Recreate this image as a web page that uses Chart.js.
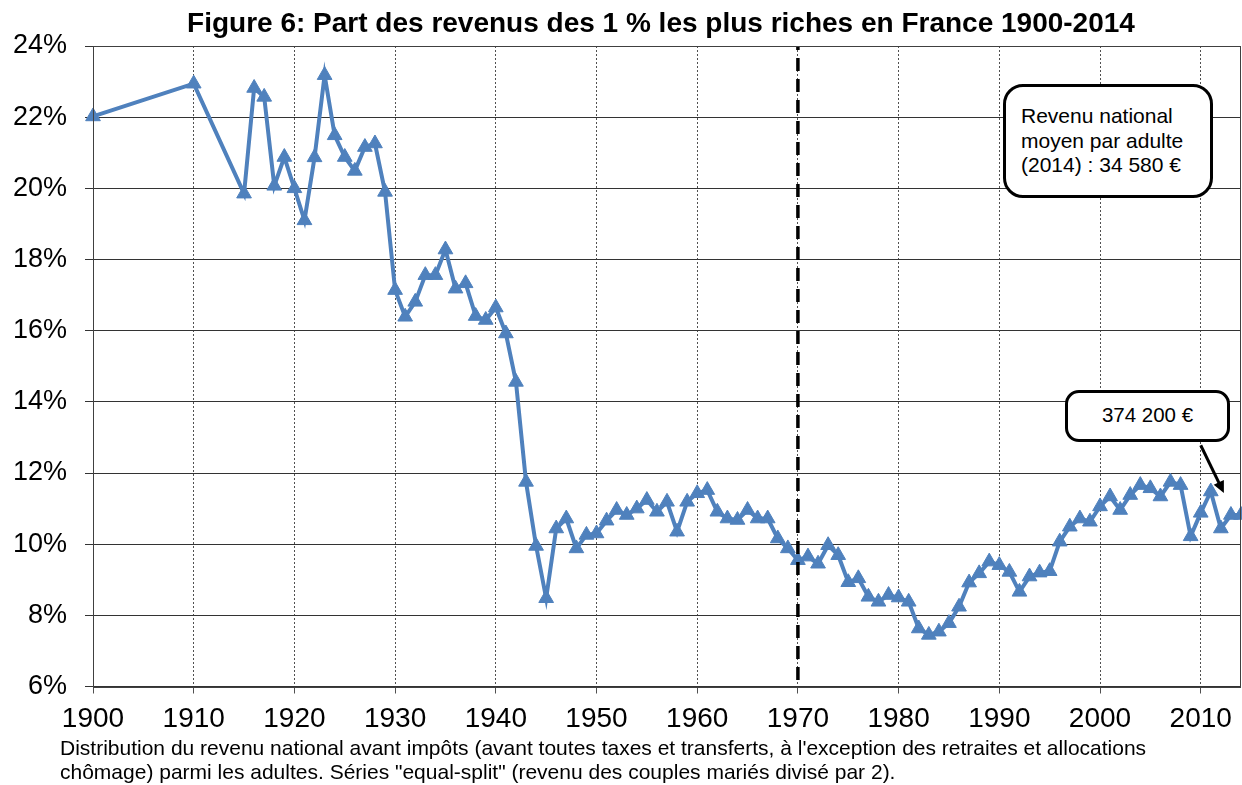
<!DOCTYPE html>
<html>
<head>
<meta charset="utf-8">
<script src="https://cdn.jsdelivr.net/npm/chart.js@4"></script>
<style>
  body { margin: 0; background: #fff; font-family: "Liberation Sans", Arial, sans-serif; }
  #wrap { position: relative; width: 1242px; height: 785px; }
  #title { position: absolute; left: 161px; top: 9px; width: 1000px; text-align: center;
    font-weight: bold; font-size: 28px; line-height: 28px; color: #000; }
  #note { position: absolute; left: 60px; top: 736px; width: 1180px;
    font-size: 21px; line-height: 24px; color: #000; }
  .callout { position: absolute; background: #fff; border: 3px solid #000;
    color: #000; box-sizing: border-box; }
  #box-mean { left: 1003px; top: 84px; width: 210px; height: 114px; border-radius: 20px;
    padding: 17px 0 0 15px; line-height: 24.7px; font-size: 21px; }
  #box-top { left: 1065px; top: 390px; width: 165px; height: 52px; border-radius: 14px;
    text-align: center; line-height: 44px; font-size: 20.5px; }
</style>
</head>
<body>
<div id="wrap">
  <canvas id="chart" width="1242" height="785"></canvas>
  <div id="title">Figure 6: Part des revenus des 1 % les plus riches en France 1900-2014</div>
  <div class="callout" id="box-mean">Revenu national<br>moyen par adulte<br>(2014) : 34 580 €</div>
  <div class="callout" id="box-top">374 200 €</div>
  <div id="note">Distribution du revenu national avant impôts (avant toutes taxes et transferts, à l'exception des retraites et allocations<br>chômage) parmi les adultes. Séries "equal-split" (revenu des couples mariés divisé par 2).</div>
</div>
<script>
const years = [
  1900, 1910, 1915, 1916, 1917, 1918, 1919, 1920, 1921, 1922, 1923, 1924, 1925, 1926, 1927, 1928, 1929,
  1930, 1931, 1932, 1933, 1934, 1935, 1936, 1937, 1938, 1939, 1940, 1941, 1942, 1943, 1944, 1945, 1946,
  1947, 1948, 1949, 1950, 1951, 1952, 1953, 1954, 1955, 1956, 1957, 1958, 1959, 1960, 1961, 1962, 1963,
  1964, 1965, 1966, 1967, 1968, 1969, 1970, 1971, 1972, 1973, 1974, 1975, 1976, 1977, 1978, 1979, 1980,
  1981, 1982, 1983, 1984, 1985, 1986, 1987, 1988, 1989, 1990, 1991, 1992, 1993, 1994, 1995, 1996, 1997,
  1998, 1999, 2000, 2001, 2002, 2003, 2004, 2005, 2006, 2007, 2008, 2009, 2010, 2011, 2012, 2013, 2014,
];

// part du top 1 % (en %)
const top1Share = [
  22.02, 22.94, 19.85, 22.82, 22.57, 20.07, 20.88, 20.00, 19.10, 20.87, 23.18, 21.49, 20.88, 20.49, 21.16, 21.26, 19.90,
  17.14, 16.39, 16.81, 17.56, 17.56, 18.28, 17.18, 17.33, 16.41, 16.30, 16.65, 15.92, 14.56, 11.75, 9.95, 8.48, 10.44,
  10.72, 9.88, 10.26, 10.30, 10.66, 10.96, 10.82, 11.00, 11.24, 10.91, 11.19, 10.35, 11.19, 11.43, 11.52, 10.91, 10.72,
  10.68, 10.96, 10.72, 10.72, 10.16, 9.88, 9.55, 9.65, 9.45, 9.97, 9.69, 8.93, 9.04, 8.52, 8.38, 8.57, 8.50,
  8.38, 7.63, 7.45, 7.54, 7.78, 8.24, 8.92, 9.18, 9.51, 9.41, 9.22, 8.66, 9.09, 9.20, 9.24, 10.07, 10.49,
  10.72, 10.63, 11.06, 11.34, 10.96, 11.38, 11.66, 11.57, 11.34, 11.75, 11.66, 10.22, 10.88, 11.48, 10.44, 10.82, 10.82,
];

// ligne verticale pointillée (1970) et flèche vers 2011
const markerYear = 1970;
const markerRange = [6.18, 24];
const arrowFrom = { x: 2010.0, y: 12.78 };
const arrowTo = { x: 2012.3, y: 11.44 };

const xMin = 1900;
const xMax = 2014;
const yMin = 6;
const yMax = 24;

const FONT = "'Liberation Sans', Arial, sans-serif";
const BLUE = "#4f81bd";

const frame = {
  id: "frame",
  afterDraw(chart) {
    const { ctx, chartArea: a } = chart;
    ctx.save();
    ctx.strokeStyle = "#404040";
    ctx.lineWidth = 1;
    ctx.strokeRect(Math.round(a.left) + 0.5, Math.round(a.top) + 0.5,
      Math.round(a.right - a.left) - 1, Math.round(a.bottom - a.top));
    ctx.restore();
  },
};

const arrow = {
  id: "arrow",
  afterDatasetsDraw(chart) {
    const { ctx, scales } = chart;
    const x1 = scales.x.getPixelForValue(arrowFrom.x);
    const y1 = scales.y.getPixelForValue(arrowFrom.y);
    const x2 = scales.x.getPixelForValue(arrowTo.x);
    const y2 = scales.y.getPixelForValue(arrowTo.y);
    const ang = Math.atan2(y2 - y1, x2 - x1);
    const head = 13;
    ctx.save();
    ctx.strokeStyle = "#000";
    ctx.fillStyle = "#000";
    ctx.lineWidth = 3;
    ctx.beginPath();
    ctx.moveTo(x1, y1);
    ctx.lineTo(x2 - Math.cos(ang) * head * 0.8, y2 - Math.sin(ang) * head * 0.8);
    ctx.stroke();
    ctx.beginPath();
    ctx.moveTo(x2, y2);
    ctx.lineTo(x2 - head * Math.cos(ang - 0.45), y2 - head * Math.sin(ang - 0.45));
    ctx.lineTo(x2 - head * Math.cos(ang + 0.45), y2 - head * Math.sin(ang + 0.45));
    ctx.closePath();
    ctx.fill();
    ctx.restore();
  },
};

new Chart(document.getElementById("chart"), {
  type: "line",
  data: {
    datasets: [
      {
        label: "1970",
        data: markerRange.map((v) => ({ x: markerYear, y: v })),
        borderColor: "#000",
        borderWidth: 3.5,
        borderDash: [13, 8],
        pointRadius: 0,
      },
      {
        label: "Top 1 %",
        data: years.map((y, i) => ({ x: y, y: top1Share[i] })),
        borderColor: BLUE,
        backgroundColor: BLUE,
        borderWidth: 4,
        pointStyle: "triangle",
        pointRadius: 8.5,
        pointBorderWidth: 1,
        pointBorderColor: BLUE,
        pointBackgroundColor: BLUE,
        tension: 0,
        clip: 10,
      },
    ],
  },
  options: {
    responsive: false,
    animation: false,
    layout: { autoPadding: false, padding: { top: 46, right: 1, bottom: 52.5, left: 0 } },
    plugins: {
      legend: { display: false },
      tooltip: { enabled: false },
      title: { display: false },
    },
    scales: {
      x: {
        type: "linear",
        min: xMin,
        max: xMax,
        afterFit: (s) => { s.height = 46; s.paddingLeft = 0; s.paddingRight = 0; },
        grid: { color: "#505050", lineWidth: 1, tickLength: 7, tickBorderDash: [] },
        border: { display: false, dash: [2, 2] },
        ticks: {
          stepSize: 10,
          includeBounds: false,
          autoSkip: false,
          maxRotation: 0,
          padding: 9,
          color: "#000",
          font: { family: FONT, size: 28 },
          callback: (v) => String(v),
        },
      },
      y: {
        min: yMin,
        max: yMax,
        afterFit: (s) => { s.width = 93; },
        grid: { color: "#333", lineWidth: 1, tickLength: 8 },
        border: { display: false },
        ticks: {
          stepSize: 2,
          padding: 18,
          color: "#000",
          font: { family: FONT, size: 27 },
          callback: (v) => v + "%",
        },
      },
    },
  },
  plugins: [frame, arrow],
});
</script>
</body>
</html>
